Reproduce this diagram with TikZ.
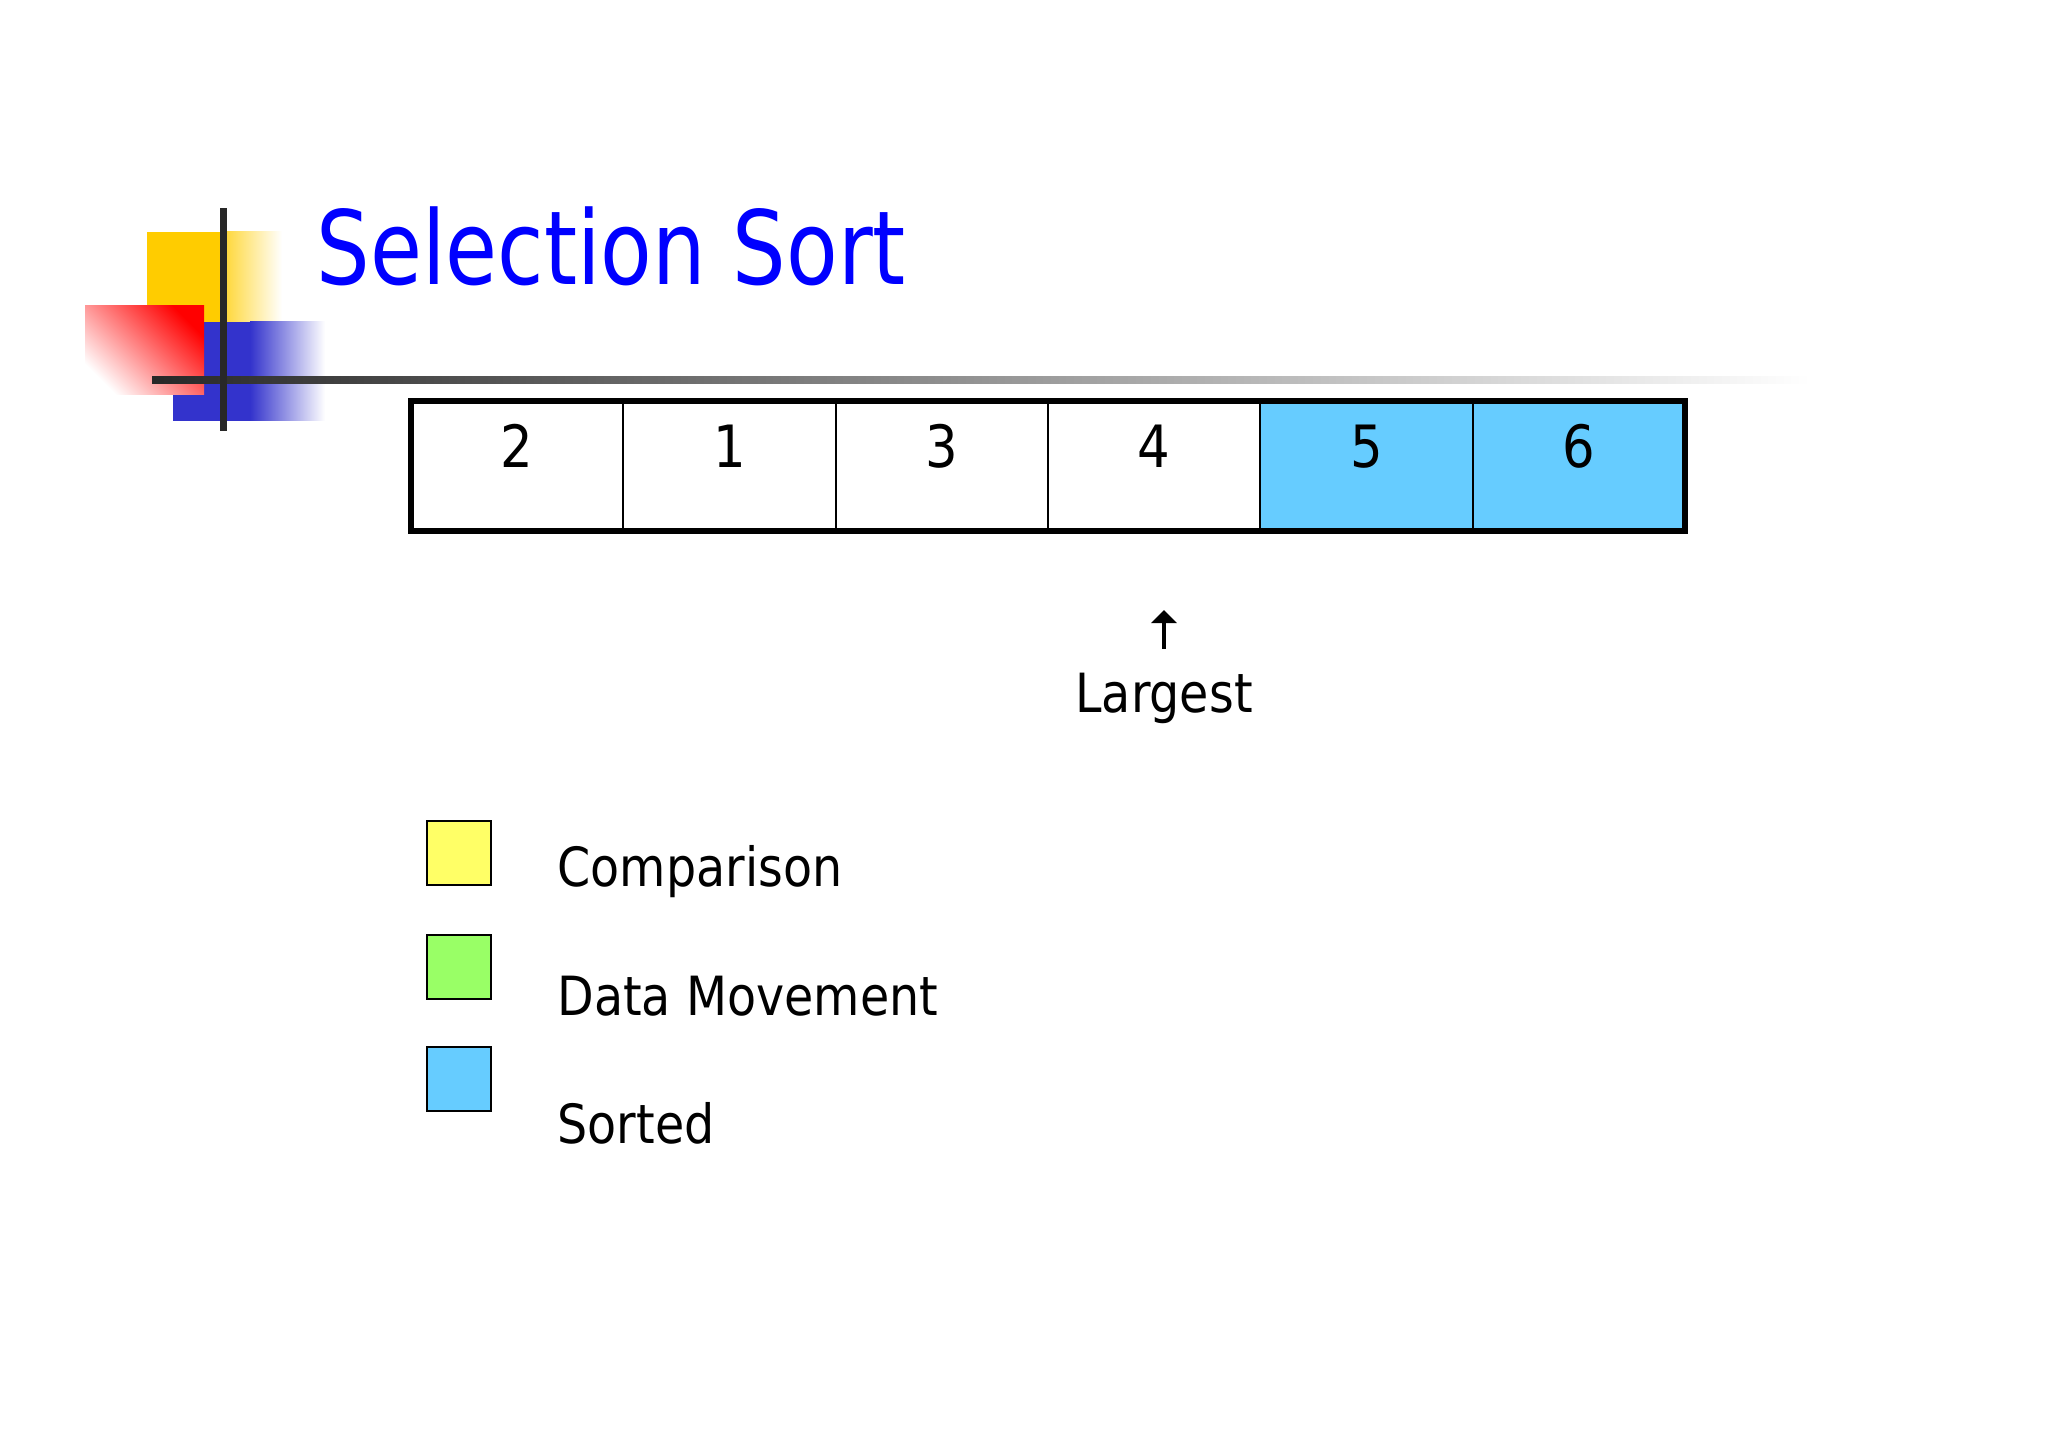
\documentclass[tikz,border=0pt]{standalone}
\usepackage{fontspec}
\setmainfont{DejaVu Sans}[FakeStretch=0.88]
\newfontfamily\titlefont{DejaVu Sans}[FakeStretch=0.825]
\usetikzlibrary{arrows.meta}
\definecolor{titleblue}{RGB}{0,0,255}
\definecolor{sortblue}{RGB}{102,204,255}
\definecolor{cmpyellow}{RGB}{255,255,102}
\definecolor{movgreen}{RGB}{153,255,102}
\definecolor{logoyellow}{RGB}{255,204,0}
\definecolor{logoblue}{RGB}{51,51,204}
\definecolor{logored}{RGB}{255,0,0}
\definecolor{linedark}{RGB}{40,40,40}
\begin{document}
\begin{tikzpicture}[x=0.3516pt,y=-0.3516pt,
  cell/.style={draw=black, line width=0.75pt, minimum width=74.65pt, minimum height=45.7pt, inner sep=0, outer sep=0},
  digit/.style={font=\fontsize{20.5}{24}\selectfont, anchor=base, inner sep=0},
  legbox/.style={draw=black, line width=0.55pt, minimum size=22.5pt, inner sep=0, anchor=north west},
  legtext/.style={font=\fontsize{19}{22}\selectfont, anchor=base west, inner sep=0}]
\path[fill=white,use as bounding box] (0,0) rectangle (2048,1448);
% logo
\fill[logoyellow] (147,232) rectangle (223,322);
\shade[left color=logoyellow!80, right color=white] (223,232) rectangle (282,322);
\fill[logoblue] (173,322) rectangle (250,421);
\shade[left color=logoblue, right color=white] (250,322) rectangle (325,421);
\shade[shading=axis, top color=logored, bottom color=white, shading angle=-45] (85,306) rectangle (204,395);
\shade[left color=linedark, middle color=black!45, right color=white] (152,376.5) rectangle (1810,383.5);
\fill[linedark] (219.5,208) rectangle (226.5,431);
% title
\node[anchor=base west, inner sep=0, text=titleblue, font=\titlefont\fontsize{36}{40}\selectfont] (title) at (316,285) {Selection Sort};
% array
\node[cell] (c1) at (517.2,466) {};
\node[cell] (c2) at (729.5,466) {};
\node[cell] (c3) at (941.8,466) {};
\node[cell] (c4) at (1154.2,466) {};
\node[cell, fill=sortblue] (c5) at (1366.5,466) {};
\node[cell, fill=sortblue] (c6) at (1578.8,466) {};
\draw[line width=2.4pt] (c1.north west) rectangle (c6.south east);
\node[digit] (d1) at (517.2,468) {2};
\node[digit] (d2) at (729.5,468) {1};
\node[digit] (d3) at (941.8,468) {3};
\node[digit] (d4) at (1154.2,468) {4};
\node[digit] (d5) at (1366.5,468) {5};
\node[digit] (d6) at (1578.8,468) {6};
% largest
\node[font=\fontsize{19}{22}\selectfont, anchor=base, inner sep=0] (lg) at (1164,713) {Largest};
\coordinate (atail) at (1164,649);
\coordinate (atip) at (1164,610);
\draw[line width=1.4pt, -{Triangle[width=8.8pt,length=4.6pt]}] (atail) -- (atip);
% legend
\node[legbox, fill=cmpyellow] (k1) at (426,820) {};
\node[legbox, fill=movgreen] (k2) at (426,934) {};
\node[legbox, fill=sortblue] (k3) at (426,1046) {};
\node[legtext] (t1) at (557,886) {Comparison};
\node[legtext] (t2) at (557,1015) {Data Movement};
\node[legtext] (t3) at (557,1143) {Sorted};
\end{tikzpicture}
\end{document}
